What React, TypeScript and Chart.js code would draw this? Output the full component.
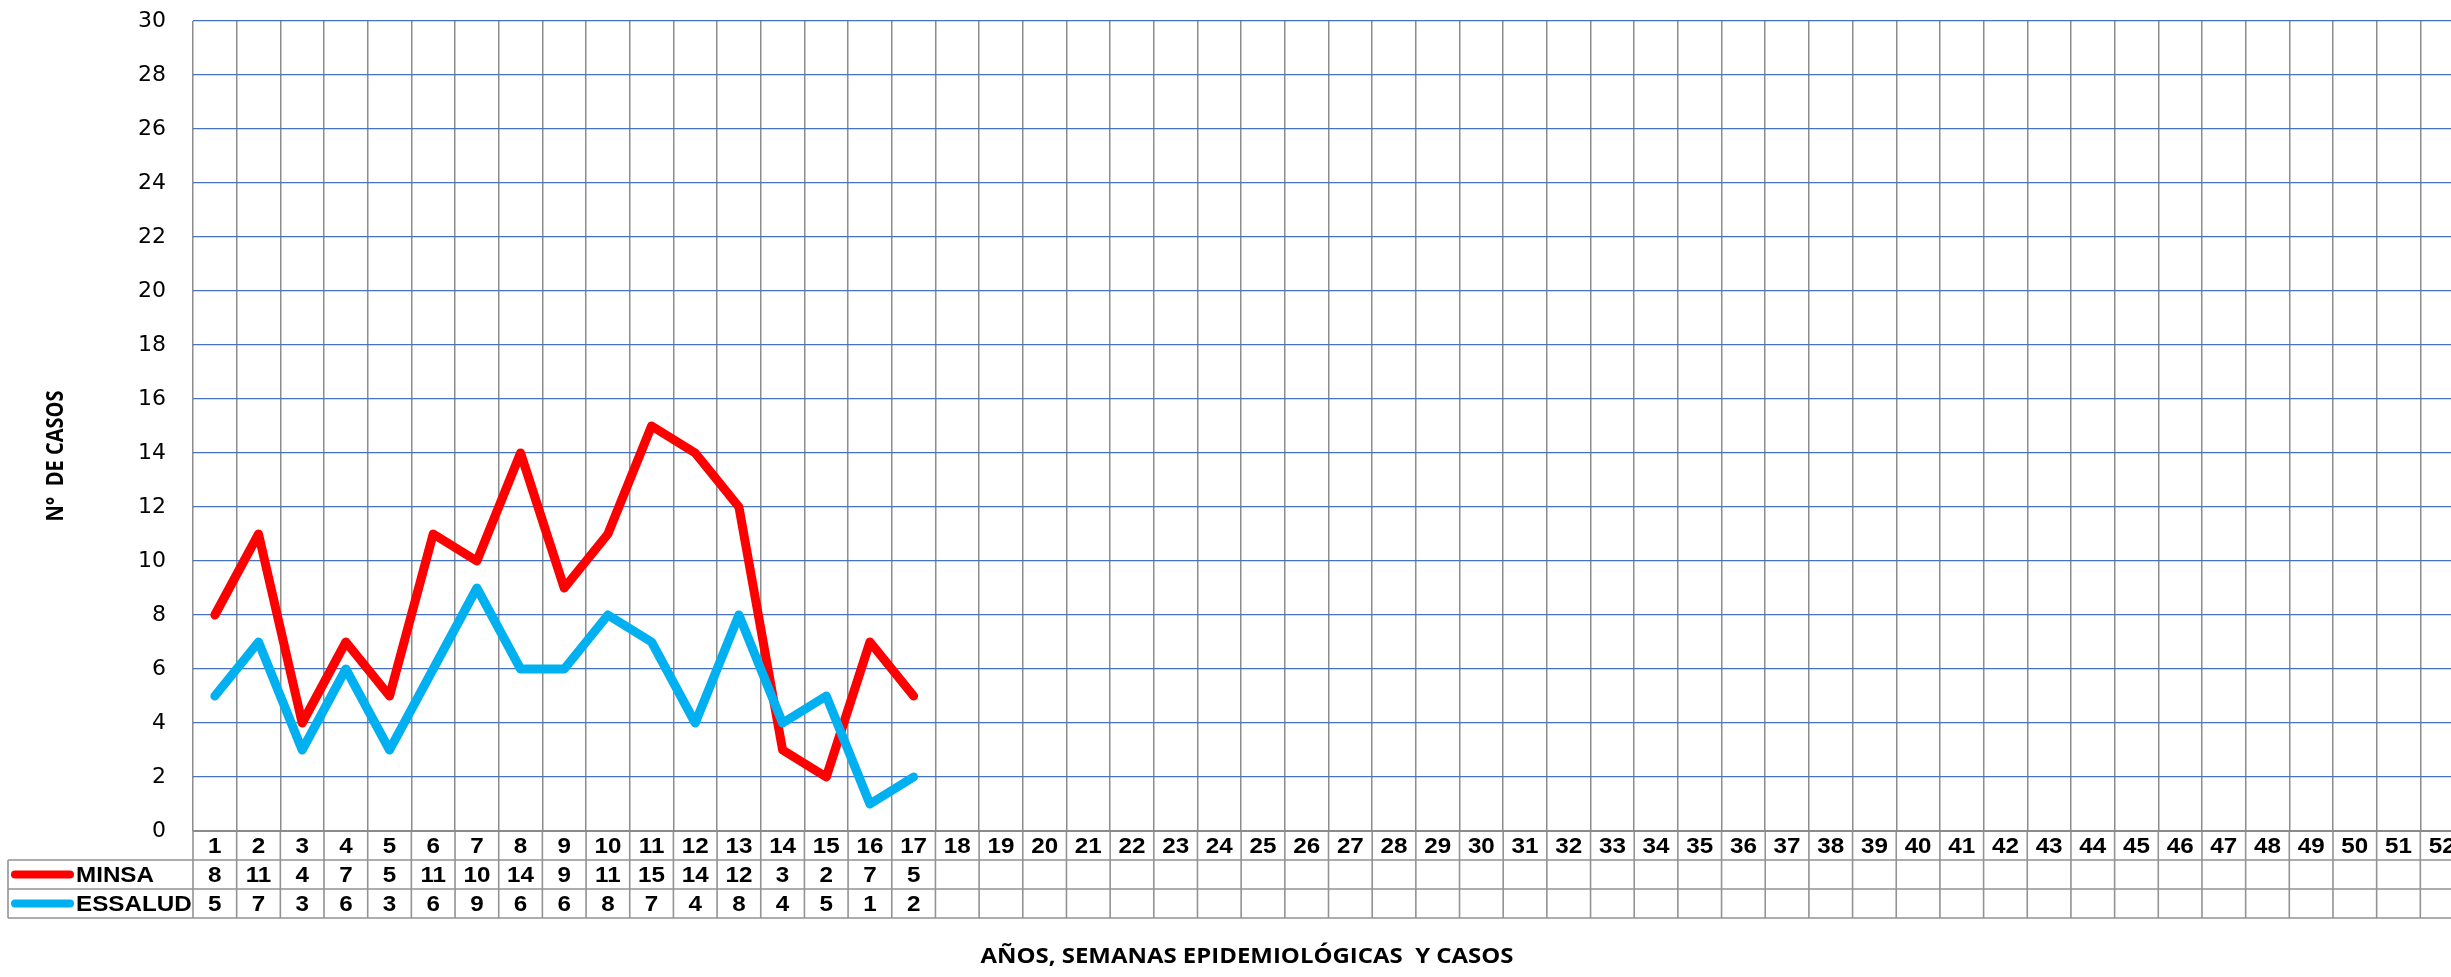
import React, { useEffect, useRef } from 'react';
import { Chart, registerables } from 'chart.js';

Chart.register(...registerables);

const weeks = ['1','2','3','4','5','6','7','8','9','10','11','12','13','14','15','16','17','18','19','20','21','22','23','24','25','26','27','28','29','30','31','32','33','34','35','36','37','38','39','40','41','42','43','44','45','46','47','48','49','50','51','52'];
const minsa = [8, 11, 4, 7, 5, 11, 10, 14, 9, 11, 15, 14, 12, 3, 2, 7, 5];
const essalud = [5, 7, 3, 6, 3, 6, 9, 6, 6, 8, 7, 4, 8, 4, 5, 1, 2];
const seriesNames = ['MINSA', 'ESSALUD'];
const seriesColors = ['#FF0000', '#00B0F0'];
const yTitle = 'N°  DE CASOS';
const xTitle = 'AÑOS, SEMANAS EPIDEMIOLÓGICAS  Y CASOS';

const TABLE_GRAY = '#939393';
const SX = 1.1;
const LINE_W = 9;

function sText(ctx: CanvasRenderingContext2D, text: string, x: number, y: number, sx: number, align: CanvasTextAlign) {
  ctx.save();
  ctx.translate(x, y);
  ctx.scale(sx, 1);
  ctx.textAlign = align;
  ctx.textBaseline = 'middle';
  ctx.fillText(text, 0, 0);
  ctx.restore();
}

const tablePlugin = {
  id: 'dataTable',
  afterDraw(chart: any) {
    const ctx: CanvasRenderingContext2D = chart.ctx;
    const xs = chart.scales.x;
    const area = chart.chartArea;
    const step = xs.getPixelForValue(1) - xs.getPixelForValue(0);
    const half = step / 2;
    const rh = 29;
    const y0 = area.bottom;
    const y1 = y0 + rh;
    const y2 = y1 + rh;
    const y3 = y2 + rh;
    const leftBox = 8;
    const rightEdge = area.right;

    ctx.save();
    ctx.strokeStyle = TABLE_GRAY;
    ctx.lineWidth = 1.6;
    ctx.beginPath();
    for (let i = 0; i <= weeks.length; i++) {
      const x = i < weeks.length ? xs.getPixelForValue(i) - half : xs.getPixelForValue(weeks.length - 1) + half;
      ctx.moveTo(x, y0);
      ctx.lineTo(x, y3);
    }
    ctx.moveTo(leftBox, y1); ctx.lineTo(rightEdge, y1);
    ctx.moveTo(leftBox, y2); ctx.lineTo(rightEdge, y2);
    ctx.moveTo(leftBox, y3); ctx.lineTo(rightEdge, y3);
    ctx.moveTo(leftBox, y1); ctx.lineTo(leftBox, y3);
    ctx.stroke();

    ctx.strokeStyle = '#8A8A8A';
    ctx.lineWidth = 2.2;
    ctx.beginPath();
    ctx.moveTo(area.left, y0);
    ctx.lineTo(rightEdge, y0);
    ctx.stroke();

    ctx.fillStyle = '#000';
    ctx.font = 'bold 22px "Liberation Sans", Arial, sans-serif';
    weeks.forEach((w, i) => {
      sText(ctx, w, xs.getPixelForValue(i), (y0 + y1) / 2 + 1, SX, 'center');
    });
    const rows = [minsa, essalud];
    rows.forEach((vals, r) => {
      const yc = (r === 0 ? (y1 + y2) / 2 : (y2 + y3) / 2) + 1;
      vals.forEach((v, i) => {
        sText(ctx, String(v), xs.getPixelForValue(i), yc, SX, 'center');
      });
      ctx.strokeStyle = seriesColors[r];
      ctx.lineWidth = 8;
      ctx.lineCap = 'round';
      ctx.beginPath();
      ctx.moveTo(15, yc - 1);
      ctx.lineTo(70, yc - 1);
      ctx.stroke();
      sText(ctx, seriesNames[r], 76, yc, SX, 'left');
    });

    ctx.font = 'bold 21px "Open Sans", sans-serif';
    sText(ctx, xTitle, 1247, 957, 1.14, 'center');

    ctx.save();
    ctx.translate(57, 456);
    ctx.scale(1.12, 1);
    ctx.rotate(-Math.PI / 2);
    ctx.font = 'bold 20px "Open Sans", sans-serif';
    ctx.textAlign = 'center';
    ctx.textBaseline = 'middle';
    ctx.fillText(yTitle, 0, 0);
    ctx.restore();

    ctx.restore();
  },
};

export default function App() {
  const ref = useRef<HTMLCanvasElement | null>(null);

  useEffect(() => {
    if (!ref.current) return;
    const chart = new Chart(ref.current, {
      type: 'line',
      data: {
        labels: weeks,
        datasets: [
          {
            label: seriesNames[0],
            data: minsa,
            borderColor: seriesColors[0],
            backgroundColor: seriesColors[0],
            borderWidth: LINE_W,
            pointRadius: 0,
            tension: 0,
            borderJoinStyle: 'round',
            borderCapStyle: 'round',
            order: 1,
          },
          {
            label: seriesNames[1],
            data: essalud,
            borderColor: seriesColors[1],
            backgroundColor: seriesColors[1],
            borderWidth: LINE_W,
            pointRadius: 0,
            tension: 0,
            borderJoinStyle: 'round',
            borderCapStyle: 'round',
            order: 0,
          },
        ],
      },
      options: {
        responsive: false,
        animation: false,
        devicePixelRatio: 1,
        layout: { padding: { left: 0, top: 21, right: 6, bottom: 0 } },
        plugins: {
          legend: { display: false },
          tooltip: { enabled: false },
          title: { display: false },
        },
        scales: {
          x: {
            type: 'category',
            offset: true,
            grid: { offset: true, color: '#8C8C8C', lineWidth: 1.5, drawTicks: false },
            border: { display: false },
            ticks: { display: false },
            afterFit: (s: any) => { s.height = 146; s.paddingLeft = 0; s.paddingRight = 0; },
          },
          y: {
            min: 0,
            max: 30,
            ticks: {
              stepSize: 2,
              padding: 27,
              color: '#000',
              font: { family: '"DejaVu Sans", Verdana, sans-serif', size: 22 },
            },
            grid: { color: '#4472C4', lineWidth: 1.2, drawTicks: false },
            border: { display: false },
            afterFit: (s: any) => { s.width = 193; s.paddingTop = 0; s.paddingBottom = 0; },
          },
        },
      },
      plugins: [tablePlugin],
    });
    return () => chart.destroy();
  }, []);

  return (
    <div style={{ position: 'absolute', left: 0, top: 0, width: 2451, height: 977, overflow: 'hidden', background: '#fff' }}>
      <canvas ref={ref} width={2470} height={977} style={{ display: 'block' }} />
    </div>
  );
}
